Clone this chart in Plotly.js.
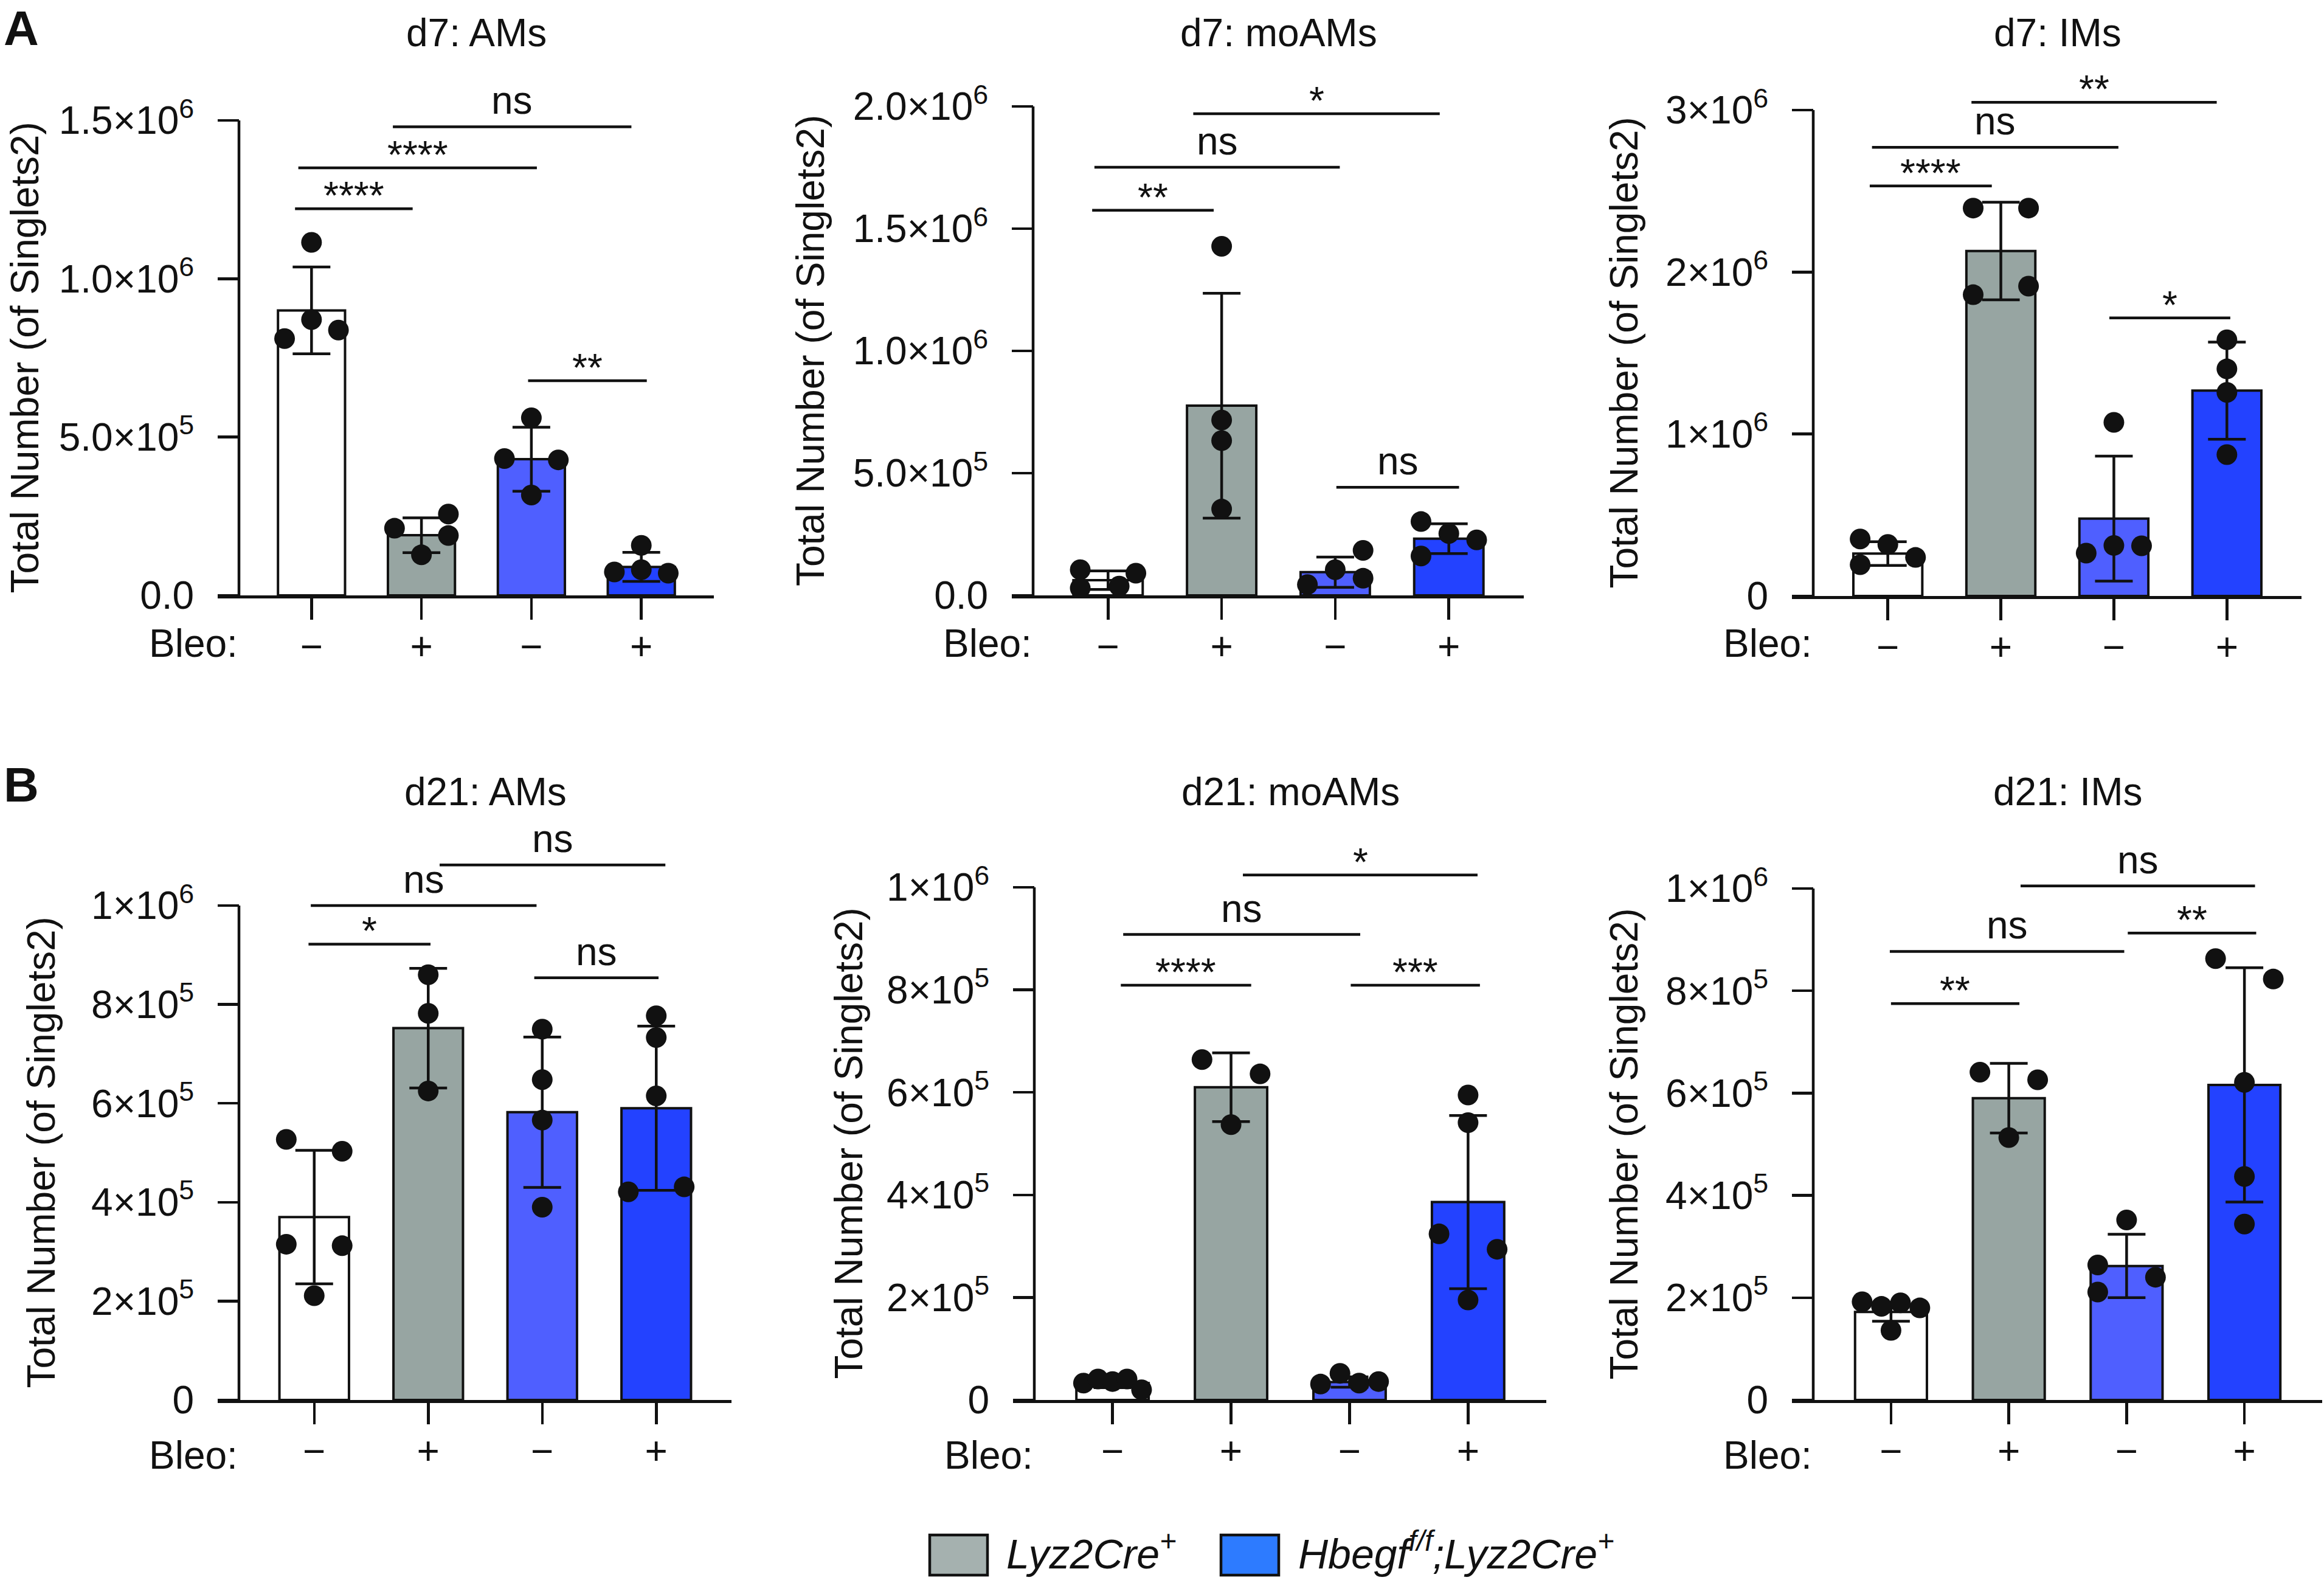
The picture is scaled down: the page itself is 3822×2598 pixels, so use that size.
<!DOCTYPE html>
<html><head><meta charset="utf-8">
<script src="https://cdn.plot.ly/plotly-3.0.1.min.js"></script>
<style>html,body{margin:0;padding:0;background:#fff}</style>
</head><body><div id="chart" style="width:3822px;height:2598px"></div>
<script>
// ---------- categories / labels ----------
const groups = ['Lyz2Cre+ PBS', 'Lyz2Cre+ Bleo', 'Hbegf f/f;Lyz2Cre+ PBS', 'Hbegf f/f;Lyz2Cre+ Bleo'];
const bleoLabels = ['\u2212', '+', '\u2212', '+'];
const barColors = ['#FFFFFF', '#97A5A2', '#4F5FFF', '#2342FF'];
const legendNames = ['<i>Lyz2Cre<sup>+</sup></i>', '<i>Hbegf<sup>f/f</sup>;Lyz2Cre<sup>+</sup></i>'];
const legendColors = ['#A5B1AF', '#2D7BFF'];
const panelTitles = ['d7: AMs', 'd7: moAMs', 'd7: IMs', 'd21: AMs', 'd21: moAMs', 'd21: IMs'];
const yTitle = 'Total Number (of Singlets2)';

// ---------- d7: AMs ----------
const d7AMsMean = [900e3, 190e3, 430e3, 90e3];
const d7AMsSD = [137e3, 55e3, 101e3, 46e3];
const d7AMsPts = [[1115e3, 871e3, 811e3, 838e3], [212e3, 257e3, 189e3, 128e3], [561e3, 432e3, 428e3, 317e3], [158e3, 74e3, 81e3, 70e3]];
const d7AMsJit = [[0, 0, -1, 1], [-1, 1, 1, 0], [0, -1, 1, 0], [0, -1, 0, 1]];
const d7AMsTicks = [0, 5e5, 1e6, 1.5e6];
const d7AMsTickText = ['0.0', '5.0\u00d710<sup>5</sup>', '1.0\u00d710<sup>6</sup>', '1.5\u00d710<sup>6</sup>'];
const d7AMsSig = [[-0.15, 0.92, 1.221e6, '****'], [-0.12, 2.05, 1.35e6, '****'], [0.74, 2.91, 1.48e6, 'ns'], [1.97, 3.05, 0.678e6, '**']];

// ---------- d7: moAMs ----------
const d7moAMsMean = [62e3, 776e3, 95e3, 232e3];
const d7moAMsSD = [38e3, 460e3, 62e3, 61e3];
const d7moAMsPts = [[105e3, 91e3, 30e3, 38e3], [1428e3, 717e3, 633e3, 353e3], [184e3, 105e3, 70e3, 44e3], [302e3, 253e3, 227e3, 161e3]];
const d7moAMsJit = [[-1, 1, -1, 0.4], [0, 0, 0, 0], [1, 0, 1, -1], [-1, 0, 1, -1]];
const d7moAMsTicks = [0, 5e5, 1e6, 1.5e6, 2e6];
const d7moAMsTickText = ['0.0', '5.0\u00d710<sup>5</sup>', '1.0\u00d710<sup>6</sup>', '1.5\u00d710<sup>6</sup>', '2.0\u00d710<sup>6</sup>'];
const d7moAMsSig = [[-0.14, 0.93, 1.575e6, '**'], [-0.12, 2.04, 1.751e6, 'ns'], [0.75, 2.92, 1.97e6, '*'], [2.01, 3.09, 0.442e6, 'ns']];

// ---------- d7: IMs ----------
const d7IMsMean = [262e3, 2130e3, 478e3, 1268e3];
const d7IMsSD = [73e3, 301e3, 386e3, 300e3];
const d7IMsPts = [[352e3, 318e3, 238e3, 193e3], [2395e3, 2395e3, 1913e3, 1860e3], [1072e3, 312e3, 265e3, 310e3], [1582e3, 1402e3, 1257e3, 873e3]];
const d7IMsJit = [[-1, 0, 1, -1], [-1, 1, 1, -1], [0, 0, -1, 1], [0, 0, 0, 0]];
const d7IMsTicks = [0, 1e6, 2e6, 3e6];
const d7IMsTickText = ['0', '1\u00d710<sup>6</sup>', '2\u00d710<sup>6</sup>', '3\u00d710<sup>6</sup>'];
const d7IMsSig = [[-0.16, 0.92, 2.532e6, '****'], [-0.14, 2.04, 2.77e6, 'ns'], [0.74, 2.91, 3.048e6, '**'], [1.96, 3.03, 1.717e6, '*']];

// ---------- d21: AMs ----------
const d21AMsMean = [370e3, 752e3, 582e3, 590e3];
const d21AMsSD = [135e3, 121e3, 152e3, 166e3];
const d21AMsPts = [[527e3, 503e3, 315e3, 312e3, 211e3], [860e3, 782e3, 625e3], [750e3, 648e3, 566e3, 390e3], [777e3, 733e3, 615e3, 421e3, 431e3]];
const d21AMsJit = [[-1, 1, -1, 1, 0], [0, 0, 0], [0, 0, 0, 0], [0, 0, 0, -1, 1]];
const d21Ticks = [0, 2e5, 4e5, 6e5, 8e5, 1e6];
const d21TickText = ['0', '2\u00d710<sup>5</sup>', '4\u00d710<sup>5</sup>', '6\u00d710<sup>5</sup>', '8\u00d710<sup>5</sup>', '1\u00d710<sup>6</sup>'];
const d21AMsSig = [[-0.05, 1.02, 0.922e6, '*'], [-0.03, 1.95, 1.0e6, 'ns'], [1.10, 3.08, 1.082e6, 'ns'], [1.93, 3.02, 0.854e6, 'ns']];

// ---------- d21: moAMs ----------
const d21moAMsMean = [33e3, 610e3, 35e3, 386e3];
const d21moAMsSD = [9e3, 67e3, 10e3, 169e3];
const d21moAMsPts = [[33e3, 41e3, 36e3, 41e3, 20e3], [664e3, 636e3, 537e3], [31e3, 52e3, 33e3, 36e3], [595e3, 541e3, 324e3, 294e3, 195e3]];
const d21moAMsJit = [[-1, -0.5, 0, 0.5, 1], [-1, 1, 0], [-1, -0.33, 0.33, 1], [0, 0, -1, 1, 0]];
const d21moAMsSig = [[0.07, 1.17, 0.809e6, '****'], [0.09, 2.09, 0.908e6, 'ns'], [1.10, 3.08, 1.024e6, '*'], [2.01, 3.10, 0.809e6, '***']];

// ---------- d21: IMs ----------
const d21IMsMean = [172e3, 590e3, 262e3, 616e3];
const d21IMsSD = [18e3, 68e3, 62e3, 229e3];
const d21IMsPts = [[192e3, 183e3, 190e3, 180e3, 136e3], [641e3, 626e3, 513e3], [352e3, 264e3, 240e3, 211e3], [863e3, 823e3, 621e3, 437e3, 344e3]];
const d21IMsJit = [[-1, -0.33, 0.33, 1, 0], [-1, 1, 0], [0, -1, 1, -1], [-1, 1, 0, 0, 0]];
const d21IMsSig = [[0.0, 1.09, 0.775e6, '**'], [-0.01, 1.98, 0.877e6, 'ns'], [1.10, 3.09, 1.005e6, 'ns'], [2.01, 3.10, 0.913e6, '**']];

const panels = [
  {title: panelTitles[0], mean: d7AMsMean, sd: d7AMsSD, pts: d7AMsPts, jit: d7AMsJit, ticks: d7AMsTicks, tickText: d7AMsTickText, sig: d7AMsSig},
  {title: panelTitles[1], mean: d7moAMsMean, sd: d7moAMsSD, pts: d7moAMsPts, jit: d7moAMsJit, ticks: d7moAMsTicks, tickText: d7moAMsTickText, sig: d7moAMsSig},
  {title: panelTitles[2], mean: d7IMsMean, sd: d7IMsSD, pts: d7IMsPts, jit: d7IMsJit, ticks: d7IMsTicks, tickText: d7IMsTickText, sig: d7IMsSig},
  {title: panelTitles[3], mean: d21AMsMean, sd: d21AMsSD, pts: d21AMsPts, jit: d21AMsJit, ticks: d21Ticks, tickText: d21TickText, sig: d21AMsSig},
  {title: panelTitles[4], mean: d21moAMsMean, sd: d21moAMsSD, pts: d21moAMsPts, jit: d21moAMsJit, ticks: d21Ticks, tickText: d21TickText, sig: d21moAMsSig},
  {title: panelTitles[5], mean: d21IMsMean, sd: d21IMsSD, pts: d21IMsPts, jit: d21IMsJit, ticks: d21Ticks, tickText: d21TickText, sig: d21IMsSig}
];

// ---------- page geometry (pixels) ----------
const W = 3822, H = 2598;
const FONT = 'Liberation Sans, Arial, Helvetica, sans-serif';
const INK = '#111111';
const FS = 64, LW = 4.5, TICKLEN = 35, EDGE = 0.66, BARW = 0.61, JIT = 0.245, DOT = 34;
const geo = [
  {yAxisX: 393,  xEnd: 1174, axisY: 979,  topTickY: 198,  domTop: 110,  titleY: 54,   yTitleX: 40,   bleoY: 1058},
  {yAxisX: 1699, xEnd: 2506, axisY: 979,  topTickY: 175,  domTop: 110,  titleY: 54,   yTitleX: 1333, bleoY: 1058},
  {yAxisX: 2982, xEnd: 3785, axisY: 980,  topTickY: 181,  domTop: 110,  titleY: 54,   yTitleX: 2670, bleoY: 1058},
  {yAxisX: 393,  xEnd: 1203, axisY: 2302, topTickY: 1489, domTop: 1380, titleY: 1302, yTitleX: 68,   bleoY: 2393},
  {yAxisX: 1701, xEnd: 2543, axisY: 2302, topTickY: 1459, domTop: 1380, titleY: 1302, yTitleX: 1395, bleoY: 2393},
  {yAxisX: 2982, xEnd: 3819, axisY: 2302, topTickY: 1461, domTop: 1380, titleY: 1302, yTitleX: 2670, bleoY: 2393}
];
const px = v => v / W;
const py = v => (H - v) / H;

const traces = [], shapes = [], annotations = [];
const layout = {
  width: W, height: H, margin: {l: 0, r: 0, t: 0, b: 0},
  paper_bgcolor: '#ffffff', plot_bgcolor: 'rgba(0,0,0,0)',
  font: {family: FONT, size: FS, color: INK},
  showlegend: false, hovermode: false
};

panels.forEach((p, i) => {
  const k = i + 1, g = geo[i];
  const suf = k === 1 ? '' : String(k);
  const xa = 'x' + suf, ya = 'y' + suf;
  const spacing = (g.xEnd - g.yAxisX) / (3 + 2 * EDGE);
  const topVal = p.ticks[p.ticks.length - 1];
  const rangeTop = topVal * (g.axisY - g.domTop) / (g.axisY - g.topTickY);

  layout['xaxis' + suf] = {
    domain: [px(g.yAxisX - TICKLEN), px(g.xEnd)],
    range: [-EDGE - TICKLEN / spacing, 3 + EDGE],
    anchor: ya, showline: true, linecolor: INK, linewidth: LW,
    ticks: 'outside', ticklen: TICKLEN, tickwidth: LW, tickcolor: INK,
    tickmode: 'array', tickvals: [0, 1, 2, 3], ticktext: bleoLabels,
    tickfont: {size: FS, color: INK, family: FONT}, ticklabelstandoff: -10,
    showgrid: false, zeroline: false, fixedrange: true
  };
  layout['yaxis' + suf] = {
    domain: [py(g.axisY), py(g.domTop)],
    range: [0, rangeTop],
    anchor: 'free', position: px(g.yAxisX), side: 'left',
    showline: false, ticks: 'outside', ticklen: TICKLEN, tickwidth: LW, tickcolor: INK,
    tickmode: 'array', tickvals: p.ticks, ticktext: p.tickText,
    tickfont: {size: FS, color: INK, family: FONT}, ticklabelstandoff: 26,
    showgrid: false, zeroline: false, fixedrange: true
  };

  traces.push({
    type: 'bar', name: p.title, x: [0, 1, 2, 3], y: p.mean, width: BARW,
    xaxis: xa, yaxis: ya, text: groups, textposition: 'none',
    marker: {color: barColors, line: {color: INK, width: 4}},
    error_y: {type: 'data', array: p.sd, symmetric: true, visible: true, color: INK, thickness: LW, width: 31},
    hoverinfo: 'skip', showlegend: false
  });

  const xs = [], ys = [];
  p.pts.forEach((arr, gi) => arr.forEach((v, j) => { xs.push(gi + p.jit[gi][j] * JIT); ys.push(v); }));
  traces.push({
    type: 'scatter', mode: 'markers', x: xs, y: ys, xaxis: xa, yaxis: ya,
    marker: {size: DOT, color: INK, line: {width: 0}}, cliponaxis: false,
    hoverinfo: 'skip', showlegend: false
  });

  // y axis line from 0 to the top tick
  shapes.push({type: 'line', xref: 'paper', yref: ya, x0: px(g.yAxisX), x1: px(g.yAxisX), y0: 0, y1: topVal,
    line: {color: INK, width: LW}});

  // significance bars
  p.sig.forEach(([a, b, y, lab]) => {
    shapes.push({type: 'line', xref: xa, yref: ya, x0: a, x1: b, y0: y, y1: y, line: {color: INK, width: LW}});
    annotations.push({xref: xa, yref: ya, x: (a + b) / 2, y: y, text: lab, showarrow: false,
      xanchor: 'center', yanchor: 'bottom', yshift: lab === 'ns' ? 5 : -17,
      font: {size: FS, color: INK, family: FONT}});
  });

  // panel title
  annotations.push({xref: 'paper', yref: 'paper', x: px((g.yAxisX + g.xEnd) / 2), y: py(g.titleY),
    text: p.title, showarrow: false, xanchor: 'center', yanchor: 'middle', font: {size: FS, color: INK, family: FONT}});
  // y title
  annotations.push({xref: 'paper', yref: 'paper', x: px(g.yTitleX), y: py((g.axisY + g.topTickY) / 2),
    text: yTitle, textangle: -90, showarrow: false, xanchor: 'center', yanchor: 'middle',
    font: {size: FS, color: INK, family: FONT}});
  // Bleo label
  annotations.push({xref: 'paper', yref: 'paper', x: px(g.yAxisX), y: py(g.bleoY), text: 'Bleo:',
    showarrow: false, xanchor: 'right', yanchor: 'middle', font: {size: FS, color: INK, family: FONT}});
});

// panel letters
annotations.push({xref: 'paper', yref: 'paper', x: px(4), y: py(46), text: '<b>A</b>', showarrow: false,
  xanchor: 'left', yanchor: 'middle', font: {size: 80, color: INK, family: FONT}});
annotations.push({xref: 'paper', yref: 'paper', x: px(4), y: py(1290), text: '<b>B</b>', showarrow: false,
  xanchor: 'left', yanchor: 'middle', font: {size: 80, color: INK, family: FONT}});

// legend (drawn manually so the swatches can be large)
const legendBoxX = [1529, 2008], legendTextX = [1653, 2133];
legendNames.forEach((nm, i) => {
  shapes.push({type: 'rect', xref: 'paper', yref: 'paper', x0: px(legendBoxX[i]), x1: px(legendBoxX[i] + 95),
    y0: py(2590), y1: py(2524), fillcolor: legendColors[i], line: {color: INK, width: LW}});
  annotations.push({xref: 'paper', yref: 'paper', x: px(legendTextX[i]), y: py(2550), text: nm, showarrow: false,
    xanchor: 'left', yanchor: 'middle', font: {size: 68, color: INK, family: FONT}});
});

layout.shapes = shapes;
layout.annotations = annotations;

Plotly.newPlot('chart', traces, layout, {staticPlot: true, displayModeBar: false});
</script></body></html>
